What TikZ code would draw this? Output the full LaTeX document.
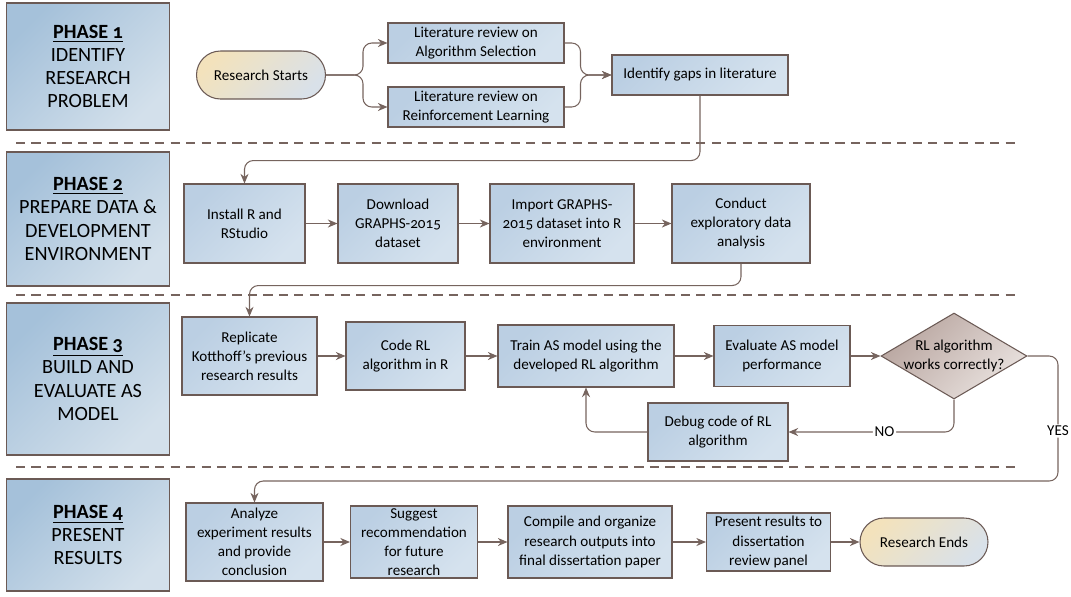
\documentclass[tikz,border=0pt]{standalone}
\usepackage{fontspec}
\setmainfont[Numbers=OldStyle]{Carlito}
\usetikzlibrary{shapes.geometric,arrows.meta}

\definecolor{boxA}{HTML}{BBCFE3}
\definecolor{boxB}{HTML}{D5E2EE}
\definecolor{phA}{HTML}{A5C1DA}
\definecolor{phB}{HTML}{D3E0EB}
\definecolor{pillA}{HTML}{F3E2BC}
\definecolor{pillB}{HTML}{D9E1E9}
\definecolor{decA}{HTML}{B8A59F}
\definecolor{decB}{HTML}{E9E2DF}
\definecolor{edge}{HTML}{6B5A55}
\definecolor{wire}{HTML}{76645E}

\def\boxfont{\fontsize{8.6}{10.9}\selectfont}
\def\phasefont{\fontsize{11.5}{13.2}\selectfont}

\tikzset{
  box/.style={draw=edge, line width=0.6pt, top color=boxA, bottom color=boxB,
    shading angle=45, align=center, font=\boxfont, inner sep=0.5pt},
  phase/.style={box, top color=phA, bottom color=phB, shading angle=45,
    minimum width=3.26cm, font=\phasefont},
  terminal/.style={box, top color=pillA, bottom color=pillB, shading angle=45,
    rounded corners=0.48cm, minimum height=0.96cm},
  decision/.style={diamond, draw=edge, line width=0.6pt, top color=decA,
    bottom color=decB, shading angle=45, inner sep=0pt},
  conn/.style={draw=wire, line width=0.6pt, rounded corners=5pt,
    -{Stealth[length=5.5pt,width=4.6pt]}},
  sep/.style={draw=wire, line width=0.6pt, dash pattern=on 5.2pt off 3.6pt},
  lbl/.style={fill=white, font=\boxfont, inner sep=1pt}
}

\begin{document}
\begin{tikzpicture}[x=0.02cm, y=-0.02cm]
  \useasboundingbox (0,0) rectangle (1071,596);

  % phase boxes and separators
  \foreach \n/\y/\h/\txt in {1/66.5/2.54/{IDENTIFY\\RESEARCH\\PROBLEM},
      2/219/2.68/{PREPARE DATA \&\\DEVELOPMENT\\ENVIRONMENT},
      3/379/3.04/{BUILD AND\\EVALUATE AS\\MODEL},
      4/535/2.24/{PRESENT\\RESULTS}} {
    \node[phase, minimum height=\h cm] (ph\n) at (88,\y)
      {\textbf{\underline{PHASE \n}}\\\txt};
  }
  \foreach \y in {143,295,467}
    \draw[sep] (16,\y) -- (1015,\y);

  % phase 1
  \node[terminal, minimum width=2.58cm] (start) at (261,75) {Research Starts};
  \node[box, minimum width=3.52cm, minimum height=0.8cm] (litas) at (476,43)
    {Literature review on\\Algorithm Selection};
  \node[box, minimum width=3.52cm, minimum height=0.8cm] (litrl) at (476,107)
    {Literature review on\\Reinforcement Learning};
  \node[box, minimum width=3.52cm, minimum height=0.8cm] (gaps) at (700,75)
    {Identify gaps in literature};

  % phase 2
  \node[box, minimum width=2.42cm, minimum height=1.58cm] (install) at (244.5,223.5)
    {Install R and\\RStudio};
  \node[box, minimum width=2.4cm, minimum height=1.58cm] (download) at (398,223.5)
    {Download\\GRAPHS-2015\\dataset};
  \node[box, minimum width=2.88cm, minimum height=1.58cm] (import) at (562,223.5)
    {Import GRAPHS-\\2015 dataset into R\\environment};
  \node[box, minimum width=2.76cm, minimum height=1.58cm] (conduct) at (741,223.5)
    {Conduct\\exploratory data\\analysis};

  % phase 3
  \node[box, minimum width=2.7cm, minimum height=1.56cm] (replicate) at (249.5,356)
    {Replicate\\Kotthoff’s previous\\research results};
  \node[box, minimum width=2.38cm, minimum height=1.36cm] (coderl) at (405.5,356)
    {Code RL\\algorithm in R};
  \node[box, minimum width=3.52cm, minimum height=1.24cm] (train) at (586,356)
    {Train AS model using the\\developed RL algorithm};
  \node[box, minimum width=2.72cm, minimum height=1.22cm] (evaluate) at (782,356)
    {Evaluate AS model\\performance};
  \node[decision, minimum width=2.92cm, minimum height=1.72cm,
    label={[font=\boxfont, align=center]center:{RL algorithm\\works correctly?}}]
    (works) at (954,356) {};
  \node[box, minimum width=2.8cm, minimum height=1.16cm] (debug) at (718,432)
    {Debug code of RL\\algorithm};

  % phase 4
  \node[box, minimum width=2.74cm, minimum height=1.56cm] (analyze) at (254.5,542)
    {Analyze\\experiment results\\and provide\\conclusion};
  \node[box, minimum width=2.54cm, minimum height=1.44cm] (suggest) at (414,542)
    {Suggest\\recommendation\\for future\\research};
  \node[box, minimum width=3.28cm, minimum height=1.44cm] (compile) at (590,542)
    {Compile and organize\\research outputs into\\final dissertation paper};
  \node[box, minimum width=2.48cm, minimum height=1.16cm] (present) at (768.5,542)
    {Present results to\\dissertation\\review panel};
  \node[terminal, minimum width=2.56cm] (ends) at (924,542) {Research Ends};

  % connectors
  \draw[conn] (start.east) -- ++(37,0) |- (litas.west);
  \draw[conn] (start.east) -- ++(37,0) |- (litrl.west);
  \draw[conn] (litas.east) -- ++(16,0) |- (gaps.west);
  \draw[conn] (litrl.east) -- ++(16,0) |- (gaps.west);
  \draw[conn] (gaps.south) -- ++(0,65) -| (install.north);
  \foreach \a/\b in {install/download, download/import, import/conduct,
      replicate/coderl, coderl/train, train/evaluate, evaluate/works,
      analyze/suggest, suggest/compile, compile/present, present/ends}
    \draw[conn] (\a) -- (\b);
  \draw[conn] (conduct.south) -- ++(0,22) -| (replicate.north);
  \draw[conn] (works.south) |- node[lbl, pos=0.71] {NO} (debug.east);
  \draw[conn] (debug.west) -| (train.south);
  \coordinate (yesturn) at (1058,481);
  \draw[conn] (works.east) -| node[lbl, pos=0.8] {YES} (yesturn) -| (analyze.north);
\end{tikzpicture}
\end{document}
